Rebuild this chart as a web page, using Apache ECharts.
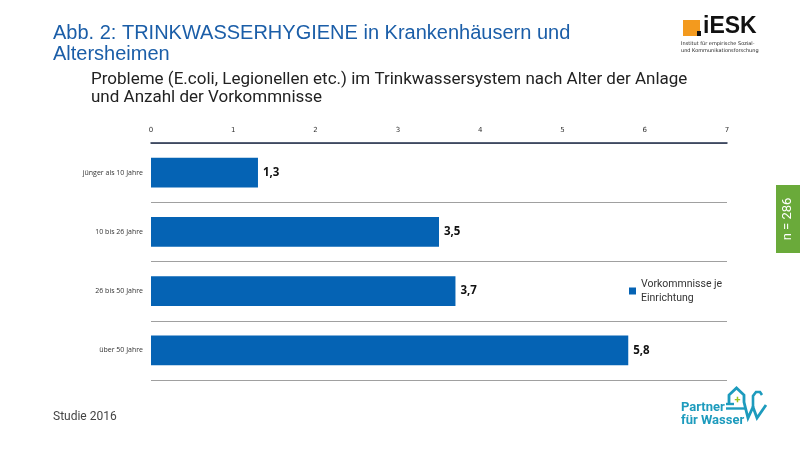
<!DOCTYPE html>
<html><head><meta charset="utf-8">
<script src="https://cdn.jsdelivr.net/npm/echarts@6/dist/echarts.min.js"></script>
<style>html,body{margin:0;padding:0;background:#fff}#c{width:800px;height:450px}</style>
</head><body><div id="c"></div>
<script>
const categories = ['jünger als 10 Jahre', '10 bis 26 Jahre', '26 bis 50 Jahre', 'über 50 Jahre'];
const values = [1.3, 3.5, 3.7, 5.8];
const seriesName = 'Vorkommnisse je\nEinrichtung';
const xTicks = [0, 1, 2, 3, 4, 5, 6, 7];

const chart = echarts.init(document.getElementById('c'));
chart.setOption({
  animation: false,
  backgroundColor: '#ffffff',
  title: [
    { text: 'Abb. 2: TRINKWASSERHYGIENE in Krankenhäusern und\nAltersheimen', left: 53, top: 23, padding: 0,
      textStyle: { fontFamily: 'Liberation Sans', fontWeight: 'normal', fontSize: 20, color: '#1b5ea8', lineHeight: 21 } },
    { text: 'Probleme (E.coli, Legionellen etc.) im Trinkwassersystem nach Alter der Anlage\nund Anzahl der Vorkommnisse', left: 91, top: 71, padding: 0,
      textStyle: { fontFamily: 'Roboto', fontWeight: 'normal', fontSize: 17, color: '#222', lineHeight: 18 } }
  ],
  legend: {
    left: 629, top: 277, orient: 'vertical', itemWidth: 7, itemHeight: 7, itemGap: 4, padding: 0,
    icon: 'rect',
    textStyle: { fontFamily: 'Roboto', fontSize: 10.5, color: '#333', lineHeight: 14 },
    data: [seriesName]
  },
  grid: { left: 151, right: 73, top: 143, bottom: 70 },
  xAxis: {
    type: 'value', position: 'top', min: 0, max: 7, interval: 1,
    axisLine: { show: true, lineStyle: { color: '#1f2d4a', width: 1.5 } },
    axisTick: { show: false },
    splitLine: { show: false },
    axisLabel: { fontFamily: 'DejaVu Sans', fontSize: 7, color: '#333', margin: 9,
      formatter: v => xTicks.includes(v) ? String(v) : '' }
  },
  yAxis: {
    type: 'category', inverse: true, data: categories,
    axisLine: { show: false }, axisTick: { show: false },
    splitLine: { show: true, lineStyle: { color: '#a0a0a0', width: 1 } },
    axisLabel: { fontFamily: 'Open Sans', fontSize: 7, color: '#333', margin: 8 }
  },
  series: [{
    name: seriesName, type: 'bar', data: values, barWidth: '50%',
    itemStyle: { color: '#0563b4' },
    label: { show: true, position: 'right', distance: 5, fontFamily: 'Open Sans', fontWeight: 'bold',
      fontSize: 11.5, color: '#111', formatter: p => String(p.value).replace('.', ',') }
  }],
  graphic: [
    { type: 'text', left: 53, top: 411, style: { text: 'Studie 2016', font: '12px Roboto', fill: '#444' } },
    { type: 'rect', shape: { x: 776, y: 185, width: 24, height: 68 }, style: { fill: '#6aaa3a' } },
    { type: 'text', x: 788, y: 219, rotation: Math.PI / 2, style: { text: 'n = 286', font: '13px Roboto', fill: '#fff', align: 'center', verticalAlign: 'middle' } },
    // iESK logo
    { type: 'rect', shape: { x: 683, y: 20, width: 17, height: 16 }, style: { fill: '#f39a1e' } },
    { type: 'rect', shape: { x: 697, y: 31, width: 4, height: 5 }, style: { fill: '#111' } },
    { type: 'text', x: 703, y: 15, style: { text: 'iESK', font: 'bold 23px "Liberation Sans"', fill: '#111' } },
    { type: 'text', x: 681, y: 40, style: { text: 'Institut für empirische Sozial-\nund Kommunikationsforschung', font: '5px "DejaVu Sans"', fill: '#222', lineHeight: 7 } },
    // Partner für Wasser logo
    { type: 'text', x: 681, y: 401, style: { text: 'Partner\nfür Wasser', font: 'bold 13px Roboto', fill: '#1d9bbd', lineHeight: 13 } },
    { type: 'polyline', shape: { points: [[729, 403], [729, 395], [736.5, 388], [744, 395], [744, 402], [748, 418], [753, 407], [757, 418], [766, 405]] }, style: { stroke: '#1d9bbd', fill: 'none', lineWidth: 2.8, lineJoin: 'miter' } },
    { type: 'line', shape: { x1: 726, y1: 404, x2: 734, y2: 404 }, style: { stroke: '#1d9bbd', lineWidth: 2.4 } },
    { type: 'line', shape: { x1: 726, y1: 408.5, x2: 745, y2: 408.5 }, style: { stroke: '#1d9bbd', lineWidth: 2.4 } },
    { type: 'text', x: 737.5, y: 400, style: { text: '+', font: 'bold 11px Roboto', fill: '#9ac31c', align: 'center', verticalAlign: 'middle' } },
    { type: 'polyline', shape: { points: [[753, 407], [753, 396], [756, 392], [760, 392], [762, 395]] }, style: { stroke: '#1d9bbd', fill: 'none', lineWidth: 2.6 } }
  ]
});
</script></body></html>
